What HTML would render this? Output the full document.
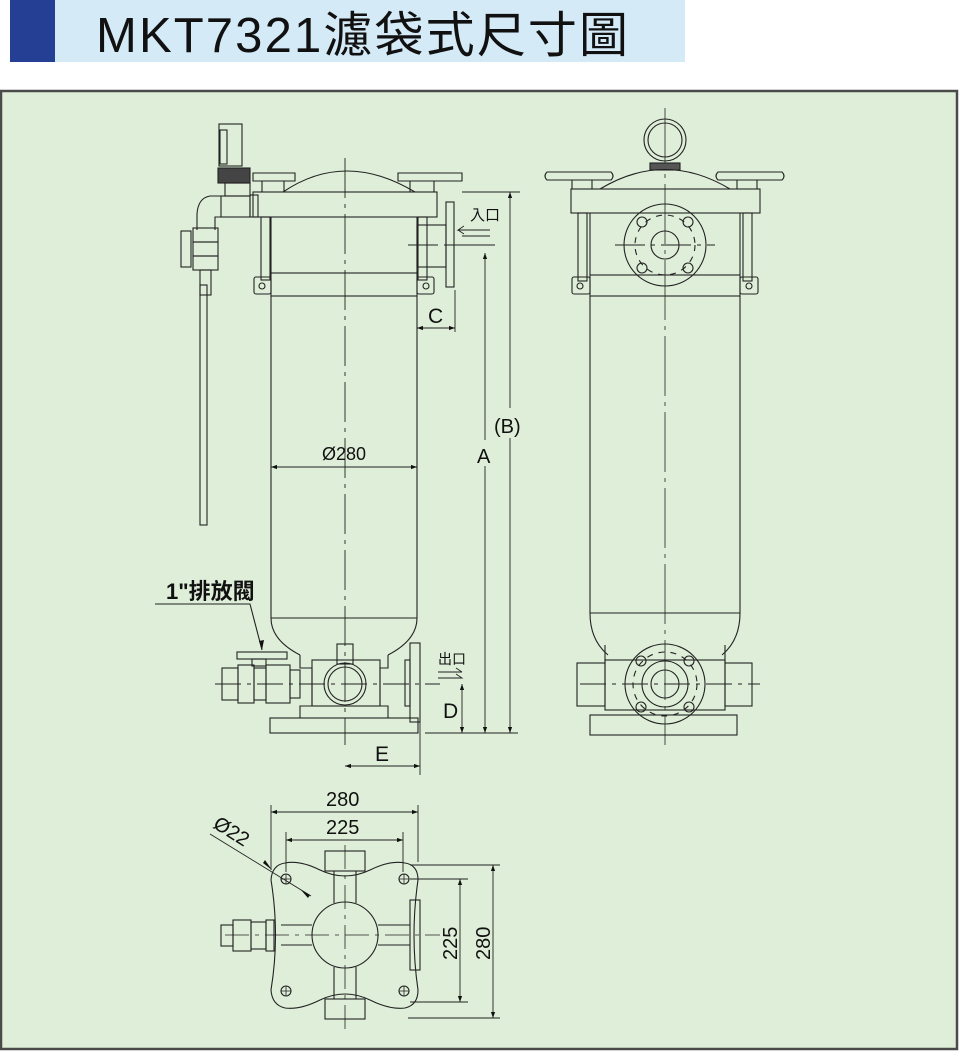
<!DOCTYPE html>
<html><head><meta charset="utf-8"><style>
html,body{margin:0;padding:0;background:#fff;width:960px;height:1052px;overflow:hidden}
svg{display:block}
text{font-family:"Liberation Sans","Noto Sans CJK TC",sans-serif;fill:#111}
</style></head><body>
<svg width="960" height="1052" viewBox="0 0 960 1052" xmlns="http://www.w3.org/2000/svg">
<defs>
<marker id="ar" viewBox="0 0 10 10" refX="10" refY="5" markerWidth="9" markerHeight="6" orient="auto-start-reverse" markerUnits="userSpaceOnUse"><path d="M0,1.5 L10,5 L0,8.5Z" fill="#111"/></marker>
</defs>
<rect x="10" y="0" width="45" height="62" fill="#253f94"/>
<rect x="55" y="0" width="630" height="62" fill="#d4eaf7"/>
<text x="96" y="52" font-size="49" textLength="532" lengthAdjust="spacing">MKT7321濾袋式尺寸圖</text>
<rect x="1" y="91" width="956" height="958" fill="#dfeed9" stroke="#4a4a4a" stroke-width="2.5"/>

<g fill="none" stroke="#222" stroke-width="1.1">
<path d="M345 158 V745" stroke-dasharray="40 6 4 6" stroke-width="0.9"/>
<path d="M283 192 Q345 150 415 192"/>
<path d="M253 173 h42 v8 h-42z M398 173 h64 v8 h-64z M262 181 h22 v11 h-22z M410 181 h24 v11 h-24z"/>
<rect x="253" y="192" width="184" height="25"/>
<rect x="261" y="217" width="9" height="63"/><rect x="418" y="217" width="9" height="63"/>
<line x1="271" y1="217" x2="271" y2="273"/><line x1="417" y1="217" x2="417" y2="273"/>
<rect x="271" y="273" width="146" height="23"/>
<rect x="254" y="277" width="17" height="17" rx="2"/><circle cx="262" cy="286" r="3"/>
<rect x="417" y="277" width="17" height="17" rx="2"/><circle cx="426" cy="286" r="3"/>
<path d="M271 296 V618 Q271 640 300 655 M417 296 V618 Q417 640 388 655"/>
<line x1="271" y1="618" x2="417" y2="618"/>
<rect x="417" y="225" width="29" height="42"/>
<rect x="446" y="202" width="8" height="85"/>
<line x1="408" y1="245" x2="490" y2="245" stroke-dasharray="30 6"/>
<rect x="219" y="124" width="23" height="42"/>
<rect x="220" y="130" width="7" height="34"/>
<rect x="218" y="168" width="32" height="15" fill="#444"/>
<rect x="225" y="183" width="25" height="13"/>
<rect x="221" y="196" width="29" height="21"/>
<rect x="250" y="195" width="8" height="22"/>
<path d="M221 196 H210 Q198 198 197 214 V230 M221 217 H215 V230"/>
<rect x="193" y="228" width="25" height="14"/><rect x="193" y="242" width="25" height="14"/><rect x="193" y="256" width="25" height="14"/>
<rect x="181" y="231" width="10" height="36"/>
<rect x="200" y="270" width="11" height="25"/>
<rect x="200" y="285" width="7" height="240"/>
<path d="M300 655 L300 668 H312 V706 H300 V718 M388 655 L388 668 H380 V706 H388 V718"/>
<rect x="312" y="660" width="68" height="46"/>
<circle cx="345" cy="684" r="21"/><circle cx="345" cy="684" r="17"/>
<rect x="337" y="644" width="16" height="20"/>
<rect x="270" y="718" width="148" height="15"/>
<rect x="410" y="643" width="10" height="79"/>
<rect x="405" y="660" width="5" height="46"/>
<rect x="237" y="652" width="50" height="7"/>
<rect x="252" y="659" width="14" height="7"/>
<rect x="222" y="668" width="16" height="32"/><rect x="238" y="665" width="16" height="38"/><rect x="254" y="668" width="12" height="32"/><rect x="266" y="665" width="24" height="38"/><rect x="290" y="670" width="10" height="28"/>
<line x1="215" y1="684" x2="440" y2="684" stroke-dasharray="26 6 4 6"/>
<path d="M155 604 H250 L262 650"/>
</g>
<path d="M262 650 l-3 -9 l5 -1z" fill="#111"/>

<g stroke="#222" stroke-width="0.9" fill="none">
<line x1="271" y1="467" x2="417" y2="467" marker-start="url(#ar)" marker-end="url(#ar)"/>
<line x1="455" y1="290" x2="455" y2="332"/>
<line x1="417" y1="328" x2="455" y2="328" marker-start="url(#ar)" marker-end="url(#ar)"/>
<line x1="462" y1="192" x2="520" y2="192"/>
<line x1="470" y1="245" x2="495" y2="245"/>
<line x1="425" y1="733" x2="518" y2="733"/>
<line x1="485" y1="253" x2="485" y2="440" marker-start="url(#ar)"/>
<line x1="485" y1="466" x2="485" y2="733" marker-end="url(#ar)"/>
<line x1="510" y1="192" x2="510" y2="408" marker-start="url(#ar)"/>
<line x1="510" y1="438" x2="510" y2="733" marker-end="url(#ar)"/>
<line x1="462" y1="684" x2="462" y2="733" marker-start="url(#ar)" marker-end="url(#ar)"/>
<line x1="420" y1="722" x2="420" y2="775"/>
<line x1="345" y1="766" x2="420" y2="766" marker-start="url(#ar)" marker-end="url(#ar)"/>
<path d="M490 230 H458 l6 -4 M458 230 l6 4 M490 236 H462" />
<path d="M438 672 H462 M438 678 H462 l-6 -4 M462 672 l-6 -4"/>
</g>
<text x="322" y="460" font-size="18">Ø280</text>
<text x="428" y="323" font-size="21">C</text>
<text x="477" y="463" font-size="20">A</text>
<text x="494" y="433" font-size="20">(B)</text>
<text x="443" y="718" font-size="21">D</text>
<text x="375" y="761" font-size="21">E</text>
<text x="470" y="220" font-size="15">入口</text>
<text x="438" y="664" font-size="14">出</text>
<text x="452" y="664" font-size="14">口</text>
<text x="166" y="599" font-size="22" font-weight="bold">1"排放閥</text>

<g fill="none" stroke="#222" stroke-width="1.1">
<path d="M665 108 V745" stroke-dasharray="60 6 4 6" stroke-width="0.8"/>
<circle cx="665" cy="140" r="21"/><circle cx="665" cy="140" r="17"/>
<rect x="650" y="163" width="30" height="7" fill="#555"/>
<path d="M600 189 Q665 150 730 189"/>
<path d="M547 172 h64 q4 4 0 8 h-64 q-4 -4 0 -8z M718 172 h64 q4 4 0 8 h-64 q-4 -4 0 -8z M572 180 h20 v9 h-20z M737 180 h20 v9 h-20z"/>
<rect x="571" y="189" width="189" height="24"/>
<rect x="578" y="213" width="9" height="68"/><rect x="743" y="213" width="9" height="68"/>
<line x1="590" y1="213" x2="590" y2="275"/><line x1="740" y1="213" x2="740" y2="275"/>
<rect x="590" y="275" width="150" height="21"/>
<rect x="572" y="277" width="18" height="17" rx="2"/><circle cx="580" cy="286" r="3"/>
<rect x="740" y="277" width="18" height="17" rx="2"/><circle cx="749" cy="286" r="3"/>
<circle cx="665" cy="245" r="41"/><circle cx="665" cy="245" r="14"/>
<circle cx="665" cy="245" r="30" stroke-dasharray="6 6"/>
<circle cx="642" cy="222" r="5"/><circle cx="688" cy="222" r="5"/><circle cx="642" cy="268" r="5"/><circle cx="688" cy="268" r="5"/>
<line x1="615" y1="245" x2="715" y2="245" stroke-dasharray="30 6 4 6"/>
<path d="M590 296 V613 Q590 640 608 655 M740 296 V613 Q740 640 722 655"/>
<line x1="590" y1="613" x2="740" y2="613"/>
<path d="M605 645 V663 M725 645 V663"/>
<rect x="577" y="663" width="28" height="43"/>
<rect x="725" y="663" width="27" height="43"/>
<rect x="605" y="660" width="120" height="50"/>
<circle cx="665" cy="684" r="40"/><circle cx="665" cy="684" r="23"/><circle cx="665" cy="684" r="14"/>
<circle cx="665" cy="684" r="32" stroke-dasharray="6 6"/>
<circle cx="641" cy="661" r="5"/><circle cx="689" cy="661" r="5"/><circle cx="641" cy="707" r="5"/><circle cx="689" cy="707" r="5"/>
<line x1="580" y1="684" x2="760" y2="684" stroke-dasharray="26 6 4 6"/>
<rect x="590" y="715" width="147" height="20"/>
</g>

<g fill="none" stroke="#222" stroke-width="1.1">
<path d="M345 845 V1030 M225 935 H440" stroke-dasharray="24 6 4 6" stroke-width="0.8"/>
<path d="M285 863 Q300 860 320 870 Q345 882 370 870 Q390 860 405 863 Q418 865 418 880 Q410 935 418 990 Q418 1005 405 1008 Q390 1010 370 1000 Q345 988 320 1000 Q300 1010 285 1008 Q272 1005 271 990 Q280 935 271 880 Q272 865 285 863z"/>
<rect x="325" y="851" width="40" height="20"/><rect x="325" y="999" width="40" height="20"/>
<path d="M334 871 V903 M356 871 V903 M334 967 V999 M356 967 V999 M281 925 H312 M281 945 H312 M378 925 H410 M378 945 H410"/>
<circle cx="345" cy="935" r="33"/>
<rect x="410" y="900" width="10" height="70"/>
<rect x="221" y="925" width="12" height="21"/><rect x="233" y="920" width="18" height="31"/><rect x="251" y="922" width="15" height="27"/><rect x="266" y="920" width="8" height="31"/>
<circle cx="286" cy="879" r="5"/><circle cx="404" cy="879" r="5"/><circle cx="286" cy="991" r="5"/><circle cx="404" cy="991" r="5"/>
<path d="M281 879 h10 M286 874 v10 M399 879 h10 M404 874 v10 M281 991 h10 M286 986 v10 M399 991 h10 M404 986 v10" stroke-width="0.8"/>
</g>
<g stroke="#222" stroke-width="0.9" fill="none">
<line x1="271" y1="805" x2="271" y2="870"/><line x1="418" y1="805" x2="418" y2="862"/>
<line x1="271" y1="812" x2="418" y2="812" marker-start="url(#ar)" marker-end="url(#ar)"/>
<line x1="286" y1="832" x2="286" y2="872"/><line x1="403" y1="832" x2="403" y2="872"/>
<line x1="286" y1="840" x2="403" y2="840" marker-start="url(#ar)" marker-end="url(#ar)"/>
<line x1="410" y1="865" x2="500" y2="865"/><line x1="410" y1="879" x2="468" y2="879"/>
<line x1="410" y1="1002" x2="468" y2="1002"/><line x1="408" y1="1018" x2="500" y2="1018"/>
<line x1="460" y1="879" x2="460" y2="1002" marker-start="url(#ar)" marker-end="url(#ar)"/>
<line x1="493" y1="865" x2="493" y2="1018" marker-start="url(#ar)" marker-end="url(#ar)"/>
<path d="M210 834 L311 896"/>
</g>
<path d="M272 870 l-9 -7 l2 -3z M301 890 l9 5 l-2 3z" fill="#111"/>
<text x="326" y="806" font-size="20">280</text>
<text x="326" y="834" font-size="20">225</text>
<text x="0" y="0" font-size="20" transform="translate(212,827) rotate(32)">Ø22</text>
<text x="0" y="0" font-size="20" transform="translate(457,960) rotate(-90)">225</text>
<text x="0" y="0" font-size="20" transform="translate(490,960) rotate(-90)">280</text>
</svg>
</body></html>
